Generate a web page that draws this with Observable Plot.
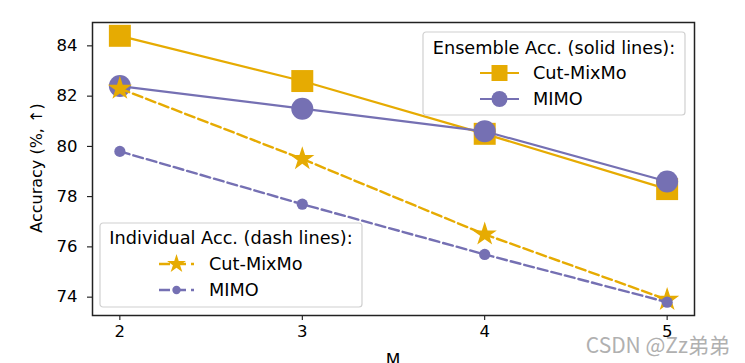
<!DOCTYPE html>
<html><head><meta charset="utf-8">
<script src="https://cdn.jsdelivr.net/npm/d3@7"></script>
<script src="https://cdn.jsdelivr.net/npm/@observablehq/plot@0.6"></script>
<style>
body{margin:0;background:#fff;}
#wrap{position:relative;width:745px;height:363px;overflow:hidden;}
svg{font-family:"DejaVu Sans",sans-serif;}
</style></head>
<body><div id="wrap"></div>
<script>
const M = [2, 3, 4, 5];
const cutMixMoEnsemble = [84.4, 82.6, 80.5, 78.3];
const mimoEnsemble = [82.4, 81.5, 80.6, 78.6];
const cutMixMoIndividual = [82.3, 79.5, 76.5, 73.9];
const mimoIndividual = [79.8, 77.7, 75.7, 73.8];
const xTicks = [2, 3, 4, 5];
const yTicks = [74, 76, 78, 80, 82, 84];
const gold = "#e6ab02", purple = "#7570b3";
const dash = "10,4";

const rows = (vals) => M.map((m, i) => ({m, v: vals[i]}));
const series = [
  {data: rows(cutMixMoEnsemble), color: gold, dash: null, symbol: "square", r: 12.4, w: 2.2},
  {data: rows(mimoEnsemble), color: purple, dash: null, symbol: "circle", r: 11, w: 2.2},
  {data: rows(cutMixMoIndividual), color: gold, dash: dash, symbol: "star", r: 7.6, w: 2.4},
  {data: rows(mimoIndividual), color: purple, dash: dash, symbol: "circle", r: 5.6, w: 2.4}
];
const marks = [];
for (const s of series) {
  marks.push(Plot.line(s.data, {x: "m", y: "v", stroke: s.color, strokeWidth: s.w, strokeDasharray: s.dash}));
  marks.push(Plot.dot(s.data, {x: "m", y: "v", fill: s.color, stroke: "none", symbol: () => s.symbol, r: s.r}));
}
const chart = Plot.plot({
  width: 745, height: 363,
  marginLeft: 92, marginRight: 51, marginTop: 22, marginBottom: 48,
  style: {fontSize: "16.5px", fontFamily: "DejaVu Sans", color: "#000", background: "#fff"},
  x: {domain: [1.85, 5.15], ticks: xTicks, tickFormat: d => d, tickSize: 5, tickPadding: 5, label: null},
  y: {domain: [73.27, 84.93], ticks: yTicks, tickFormat: d => d, tickSize: 5, tickPadding: 10, label: null},
  marks: [
    ...marks,
    Plot.frame({stroke: "#222", strokeWidth: 1.5})
  ]
});
document.getElementById("wrap").appendChild(chart);

const svg = d3.select(chart);
svg.append("text").attr("transform", "translate(42,168) rotate(-90)").attr("text-anchor", "middle")
  .attr("font-size", "16px").attr("fill", "#000").text("Accuracy (%, ↑)");
svg.append("text").attr("x", 393).attr("y", 366).attr("text-anchor", "middle")
  .attr("font-size", "17px").attr("fill", "#000").text("M");

function legend(x, y, w, h, title, entries, titleY, hx1, hx2, textX) {
  const g = svg.append("g").attr("transform", `translate(${x},${y})`);
  g.append("rect").attr("width", w).attr("height", h).attr("rx", 3)
    .attr("fill", "#fff").attr("fill-opacity", 0.85).attr("stroke", "#d0d0d0").attr("stroke-width", 1.2);
  g.append("text").attr("x", w / 2).attr("y", titleY).attr("dy", "0.35em").attr("text-anchor", "middle")
    .attr("font-size", "17.7px").text(title);
  entries.forEach((e) => {
    const yy = e.y;
    g.append("line").attr("x1", hx1).attr("x2", hx2).attr("y1", yy).attr("y2", yy)
      .attr("stroke", e.color).attr("stroke-width", e.w).attr("stroke-dasharray", e.dash);
    g.append("path").attr("transform", `translate(${(hx1 + hx2) / 2},${yy})`)
      .attr("d", d3.symbol(e.sym, e.size)()).attr("fill", e.color);
    g.append("text").attr("x", textX).attr("y", yy).attr("dy", "0.35em").attr("text-anchor", "start")
      .attr("font-size", "17.7px").text(e.label);
  });
}
legend(423, 32, 262, 83, "Ensemble Acc. (solid lines):", [
  {label: "Cut-MixMo", color: gold, dash: null, sym: d3.symbolSquare, size: 256, y: 41, w: 2.2},
  {label: "MIMO", color: purple, dash: null, sym: d3.symbolCircle, size: 200, y: 67, w: 2.2}
], 16, 57, 96, 110);
legend(100, 223, 262, 84, "Individual Acc. (dash lines):", [
  {label: "Cut-MixMo", color: gold, dash: "11,5", sym: d3.symbolStar, size: 110, y: 41, w: 2.4},
  {label: "MIMO", color: purple, dash: "11,5", sym: d3.symbolCircle, size: 55, y: 67, w: 2.4}
], 15, 59, 94, 109);
svg.append("text").attr("x", 730).attr("y", 353).attr("text-anchor", "end")
  .attr("font-family", "'Noto Sans CJK SC', 'DejaVu Sans'").attr("font-size", "21px")
  .attr("fill", "#b0b0b0").text("CSDN @Zz弟弟");
</script></body></html>
